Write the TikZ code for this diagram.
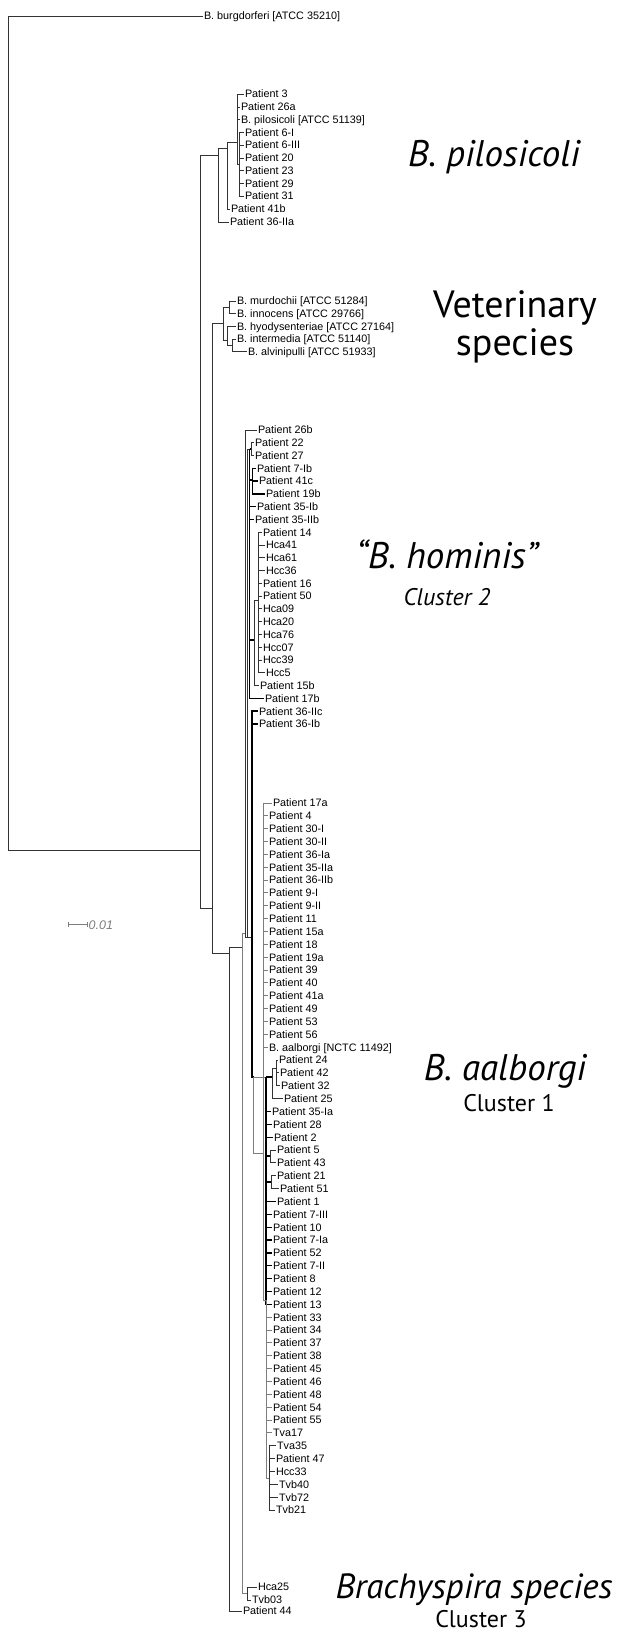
\documentclass[tikz,border=0pt]{standalone}
\usepackage{fontspec}
\setmainfont{Liberation Sans}
\newfontfamily\bigfont{PT Sans}
\definecolor{brgray}{RGB}{125,125,125}
\tikzset{
  leaf/.style={anchor=west, inner sep=0pt, outer xsep=1.5pt, xshift=-1.5pt,
    text height=7.7pt, text depth=0pt, font=\fontsize{10.8}{12}\selectfont},
  brl/.style={line width=0.95pt, draw=black!80},
  brk/.style={line width=1.4pt, draw=black},
  brg/.style={line width=1pt, draw=brgray},
  bigit/.style={font=\bigfont\itshape\fontsize{37}{40}\selectfont, inner sep=0pt, anchor=base},
  bigup/.style={font=\bigfont\fontsize{38}{40}\selectfont, inner sep=0pt, anchor=base},
  clus/.style={font=\bigfont\fontsize{24}{26}\selectfont, inner sep=0pt, anchor=base},
}
\begin{document}
\begin{tikzpicture}[x=1pt,y=-1pt]
\useasboundingbox (0,0) rectangle (635,1632);

% ---------- leaves ----------
\node[leaf] (burg) at (204,16) {B. burgdorferi [ATCC 35210]};
\foreach \n/\x/\y/\t in {p3/245/94/{Patient 3}, p26a/241/107/{Patient 26a},
  bpil/241/119.6/{B. pilosicoli [ATCC 51139]}, p6I/245/132.4/{Patient 6-I},
  p6III/245/145/{Patient 6-III}, p20/245/158/{Patient 20}, p23/245/170.6/{Patient 23},
  p29/245/183.4/{Patient 29}, p31/245/196/{Patient 31}, p41b/231/209/{Patient 41b},
  p36IIa/230/222/{Patient 36-IIa},
  bmur/237/301/{B. murdochii [ATCC 51284]}, binn/237/313.7/{B. innocens [ATCC 29766]},
  bhyo/237/326.4/{B. hyodysenteriae [ATCC 27164]}, bint/237/339/{B. intermedia [ATCC 51140]},
  balv/248/351.8/{B. alvinipulli [ATCC 51933]},
  hcaZ/258/1587/{Hca25}, tvbZ/252/1600/{Tvb03}, p44/243/1611/{Patient 44}}
  {\node[leaf] (\n) at (\x,\y) {\t};}

\foreach \n/\x/\t [count=\i from 0] in {p26b/258/{Patient 26b}, p22/255/{Patient 22},
  p27/255/{Patient 27}, p7Ib/257/{Patient 7-Ib}, p41c/259/{Patient 41c},
  p19b/266/{Patient 19b}, p35Ib/257/{Patient 35-Ib}, p35IIb/255/{Patient 35-IIb},
  p14/263/{Patient 14}, hcaA/266/{Hca41}, hcaB/266/{Hca61}, hccA/266/{Hcc36},
  p16/263/{Patient 16}, p50/263/{Patient 50}, hcaC/263/{Hca09}, hcaD/263/{Hca20},
  hcaE/263/{Hca76}, hccB/263/{Hcc07}, hccC/263/{Hcc39}, hccD/266/{Hcc5},
  p15b/260/{Patient 15b}, p17b/265/{Patient 17b}, p36IIc/259/{Patient 36-IIc},
  p36Ib/259/{Patient 36-Ib}}
  {\node[leaf] (\n) at (\x,{430+12.78*\i}) {\t};}

\foreach \n/\x/\t [count=\i from 0] in {a17a/273/{Patient 17a}, a4/269/{Patient 4},
  a30I/269/{Patient 30-I}, a30II/269/{Patient 30-II}, a36Ia/269/{Patient 36-Ia},
  a35IIa/269/{Patient 35-IIa}, a36IIb/269/{Patient 36-IIb}, a9I/269/{Patient 9-I},
  a9II/269/{Patient 9-II}, a11/269/{Patient 11}, a15a/269/{Patient 15a},
  a18/269/{Patient 18}, a19a/269/{Patient 19a}, a39/269/{Patient 39},
  a40/269/{Patient 40}, a41a/269/{Patient 41a}, a49/269/{Patient 49},
  a53/269/{Patient 53}, a56/269/{Patient 56}, baal/269/{B. aalborgi [NCTC 11492]},
  a24/279/{Patient 24}, a42/280/{Patient 42}, a32/281/{Patient 32}, a25/284/{Patient 25},
  a35Ia/272/{Patient 35-Ia}, a28/273/{Patient 28}, a2/274/{Patient 2},
  a5/277/{Patient 5}, a43/277/{Patient 43}, a21/277/{Patient 21}, a51/280/{Patient 51},
  a1/277/{Patient 1}, a7III/273/{Patient 7-III}, a10/273/{Patient 10},
  a7Ia/273/{Patient 7-Ia}, a52/273/{Patient 52}, a7II/273/{Patient 7-II},
  a8/273/{Patient 8}, a12/273/{Patient 12}, a13/273/{Patient 13},
  a33/273/{Patient 33}, a34/273/{Patient 34}, a37/273/{Patient 37},
  a38/273/{Patient 38}, a45/273/{Patient 45}, a46/273/{Patient 46},
  a48/273/{Patient 48}, a54/273/{Patient 54}, a55/273/{Patient 55},
  tvaA/273/{Tva17}, tvaB/277/{Tva35}, a47/276/{Patient 47}, hccE/276/{Hcc33},
  tvbA/279/{Tvb40}, tvbB/279/{Tvb72}, tvbC/276/{Tvb21}}
  {\node[leaf] (\n) at (\x,{803+12.855*\i}) {\t};}

% ---------- internal nodes ----------
\coordinate (R) at (8,850);
\coordinate (A) at (200,850);
\coordinate (P) at (218,155);
\coordinate (P1) at (227,148);
\coordinate (P2) at (237,142);
\coordinate (P3) at (239,164);
\coordinate (B) at (212,908);
\coordinate (V) at (223,323);
\coordinate (V1) at (229,307);
\coordinate (V2) at (227,340);
\coordinate (V3) at (232,345);
\coordinate (C) at (229,953);
\coordinate (D) at (242,947);
\coordinate (HT) at (247,1593);
\coordinate (E) at (245,933);
\coordinate (E2) at (247,937);
\coordinate (K) at (249.5,449);
\coordinate (H1) at (251.5,449);
\coordinate (H2) at (252.5,480);
\coordinate (K2) at (254,640);
\coordinate (H3) at (258,600);
\coordinate (F) at (252,937);
\coordinate (Q) at (253.5,1077);
\coordinate (G) at (266,1077);
\coordinate (S) at (272,1077);
\coordinate (S1) at (276,1068);
\coordinate (N1) at (270,1156);
\coordinate (N2) at (271,1182);
\coordinate (Z) at (263,1153);
\coordinate (U) at (266.5,1300);
\coordinate (T) at (269,1478);

% ---------- branches ----------
\foreach \c in {burg,A} \draw[brl] (R) |- (\c);
\foreach \c in {P,B} \draw[brl] (A) |- (\c);
\foreach \c in {P1,p36IIa} \draw[brl] (P) |- (\c);
\foreach \c in {P2,p41b} \draw[brl] (P1) |- (\c);
\foreach \c in {p3,p26a,bpil,P3} \draw[brl] (P2) |- (\c);
\foreach \c in {p6I,p6III,p20,p23,p29,p31} \draw[brl] (P3) |- (\c);
\foreach \c in {V,C} \draw[brl] (B) |- (\c);
\foreach \c in {V1,V2} \draw[brl] (V) |- (\c);
\foreach \c in {bmur,binn} \draw[brl] (V1) |- (\c);
\foreach \c in {bhyo,V3} \draw[brl] (V2) |- (\c);
\foreach \c in {bint,balv} \draw[brl] (V3) |- (\c);
\foreach \c in {D,p44} \draw[brl] (C) |- (\c);
\foreach \c in {E,HT} \draw[brg] (D) |- (\c);
\foreach \c in {hcaZ,tvbZ} \draw[brl] (HT) |- (\c);
\foreach \c in {p26b,E2} \draw[brl] (E) |- (\c);
\foreach \c in {K,F} \draw[brl] (E2) |- (\c);
\foreach \c in {H1,H2,p35Ib,p35IIb,K2,p17b} \draw[brk] (K) |- (\c);
\foreach \c in {p22,p27} \draw[brl] (H1) |- (\c);
\foreach \c in {p7Ib,p41c,p19b} \draw[brk] (H2) |- (\c);
\foreach \c in {H3,p15b} \draw[brl] (K2) |- (\c);
\foreach \c in {p14,hcaA,hcaB,hccA,p16,p50,hcaC,hcaD,hcaE,hccB,hccC,hccD}
  \draw[brl] (H3) |- (\c);
\foreach \c in {p36IIc,p36Ib,Q} \draw[brk] (F) |- (\c);
\foreach \c in {G,Z} \draw[brg] (Q) |- (\c);
\foreach \c in {S,a35Ia,a28,a2,N1,N2,a1,a7III,a10,a7Ia,a52,a7II,a8,a12,a13}
  \draw[brk] (G) |- (\c);
\foreach \c in {S1,a25} \draw[brl] (S) |- (\c);
\foreach \c in {a24,a42,a32} \draw[brl] (S1) |- (\c);
\foreach \c in {a5,a43} \draw[brl] (N1) |- (\c);
\foreach \c in {a21,a51} \draw[brl] (N2) |- (\c);
\foreach \c in {a17a,a4,a30I,a30II,a36Ia,a35IIa,a36IIb,a9I,a9II,a11,a15a,a18,a19a,
  a39,a40,a41a,a49,a53,a56,baal,U} \draw[brg] (Z) |- (\c);
\foreach \c in {a33,a34,a37,a38,a45,a46,a48,a54,a55,tvaA,T} \draw[brg] (U) |- (\c);
\foreach \c in {tvaB,a47,hccE,tvbA,tvbB,tvbC} \draw[brl] (T) |- (\c);

% ---------- scale bar ----------
\coordinate (sb1) at (68,924);
\coordinate (sb2) at (87,924);
\draw[brgray, line width=0.8pt] (sb1) -- (sb2)
  (sb1) ++(0,-2.5) -- ++(0,5) (sb2) ++(0,-2.5) -- ++(0,5);
\node[anchor=west, inner sep=0pt, text=brgray, font=\itshape\fontsize{12.5}{14}\selectfont]
  (sbl) at (88.5,925) {0.01};

% ---------- group labels ----------
\node[bigit] (lpil) at (494,167) {B. pilosicoli};
\node[bigup] (lvet) at (515,317) {Veterinary};
\node[bigup] (lspe) at (515,355) {species};
\node[bigit] (lhom) at (447,568) {“B. hominis”};
\node[clus] (lc2) at (447,605) {\itshape Cluster 2};
\node[bigit] (laal) at (505,1080) {B. aalborgi};
\node[clus] (lc1) at (509,1111) {Cluster 1};
\node[bigit, font=\bigfont\itshape\fontsize{35}{38}\selectfont] (lbra) at (474,1598) {Brachyspira species};
\node[clus] (lc3) at (481,1627) {Cluster 3};
\end{tikzpicture}
\end{document}
